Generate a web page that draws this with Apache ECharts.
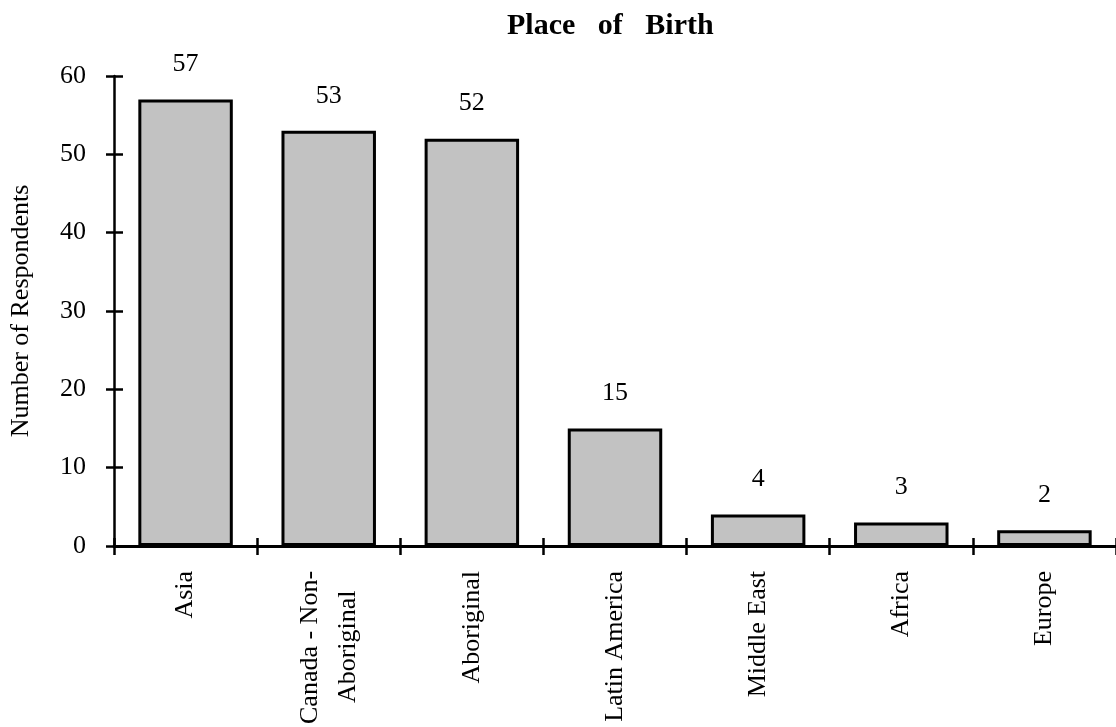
<!DOCTYPE html>
<html>
<head>
<meta charset="utf-8">
<script src="https://cdn.jsdelivr.net/npm/echarts@6/dist/echarts.min.js"></script>
<style>
html,body{margin:0;padding:0;background:#fff;}
#chart{width:1116px;height:727px;}
</style>
</head>
<body>
<div id="chart"></div>
<script>
var categories = ["Asia", "Canada - Non-\nAboriginal", "Aboriginal", "Latin America", "Middle East", "Africa", "Europe"];
var values = [57, 53, 52, 15, 4, 3, 2];
var yTicks = [0, 10, 20, 30, 40, 50, 60];
var titleText = "Place   of   Birth";
var yAxisName = "Number of Respondents";

var serif = "'Liberation Serif', 'Times New Roman', serif";
var chart = echarts.init(document.getElementById('chart'));

function centerLines(v) {
  var lines = v.split('\n');
  if (lines.length < 2) return v;
  var maxLen = Math.max.apply(null, lines.map(function (l) { return l.length; }));
  return lines.map(function (l) {
    var pad = Math.round((maxLen - l.length) * 0.9);
    return l + new Array(pad + 1).join(' ');
  }).join('\n');
}

chart.setOption({
  animation: false,
  backgroundColor: '#fff',
  title: {
    text: titleText,
    left: 502,
    top: 6,
    textStyle: { fontFamily: serif, fontSize: 30, fontWeight: 'bold', color: '#000' }
  },
  grid: { left: 112, right: 0, top: 76, bottom: 179, containLabel: false },
  xAxis: [{
    type: 'category',
    data: categories,
    axisLine: { show: true, lineStyle: { color: '#000', width: 3 } },
    axisTick: { show: true, length: 9, alignWithLabel: false, lineStyle: { color: '#000', width: 2.5 } },
    axisLabel: {
      rotate: 90, margin: 25, interval: 0,
      fontFamily: serif, fontSize: 26, color: '#000', lineHeight: 38,
      formatter: centerLines
    }
  }, {
    type: 'category',
    data: categories,
    position: 'bottom',
    axisLine: { show: false },
    axisTick: { show: true, inside: true, length: 8, lineStyle: { color: '#000', width: 2.5 } },
    axisLabel: { show: false }
  }],
  yAxis: [{
    type: 'value',
    min: yTicks[0],
    max: yTicks[yTicks.length - 1],
    interval: 10,
    name: yAxisName,
    nameLocation: 'middle',
    nameGap: 80,
    nameTextStyle: { fontFamily: serif, fontSize: 26, color: '#000' },
    axisLine: { show: true, lineStyle: { color: '#000', width: 2.5 } },
    axisTick: { show: true, length: 8, lineStyle: { color: '#000', width: 2.5 } },
    axisLabel: { margin: 28, fontFamily: serif, fontSize: 26, color: '#000' },
    splitLine: { show: false }
  }, {
    type: 'value',
    position: 'left',
    min: yTicks[0],
    max: yTicks[yTicks.length - 1],
    interval: 10,
    axisLine: { show: false },
    axisTick: { show: true, inside: true, length: 9, lineStyle: { color: '#000', width: 2.5 } },
    axisLabel: { show: false },
    splitLine: { show: false }
  }],
  series: [{
    type: 'bar',
    xAxisIndex: 0,
    yAxisIndex: 0,
    data: values,
    barWidth: '66%',
    itemStyle: { color: '#c2c2c2', borderColor: '#000', borderWidth: 3 },
    label: {
      show: true, position: 'top', distance: 22,
      fontFamily: serif, fontSize: 26, color: '#000'
    }
  }]
});
</script>
</body>
</html>
